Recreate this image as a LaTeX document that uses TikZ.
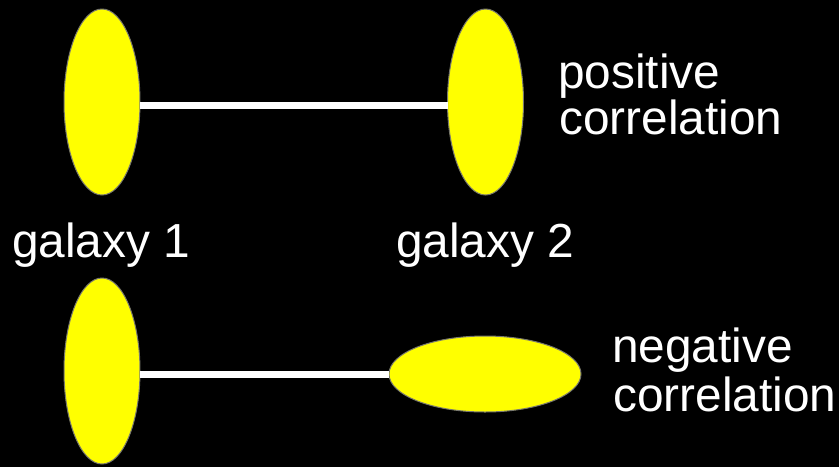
\documentclass[tikz,border=0pt]{standalone}
\usepackage{fontspec}
\setmainfont{Liberation Sans}
\usetikzlibrary{shapes.geometric}
\tikzset{
  galaxy/.style={ellipse, fill={rgb,255:red,255;green,255;blue,0}, draw={rgb,255:red,120;green,120;blue,110},
    line width=1pt, inner sep=0pt, outer sep=0pt},
  tall/.style={galaxy, minimum width=76pt, minimum height=186pt},
  wide/.style={galaxy, minimum width=192pt, minimum height=76pt},
  label/.style={white, inner sep=0pt, anchor=base west, font=\fontsize{47.8}{48}\selectfont},
  link/.style={white, line width=7pt}
}
\begin{document}
\begin{tikzpicture}[x=1pt, y=-1pt]
  \fill[black] (0,0) rectangle (839,467);
  \useasboundingbox (0,0) rectangle (839,467);

  % upper pair: aligned shapes
  \node[tall] (g1) at (102,102) {};
  \node[tall] (g2) at (485.5,102) {};
  \draw[link] ([yshift=-3pt]g1.east) -- ([yshift=-3pt]g2.west);

  % lower pair: one shape turned across
  \node[tall] (g3) at (102,371) {};
  \node[wide] (g4) at (485,374) {};
  \draw[link] ([yshift=-3pt]g3.east) -- ([yshift=0pt]g4.west);

  \node[label] (l1) at (12,257) {galaxy 1};
  \node[label] (l2) at (396,257) {galaxy 2};

  \node[label] (p1) at (558,88) {positive};
  \node[label] (p2) at (559,134) {correlation};

  \node[label] (n1) at (612,362) {negative};
  \node[label] (n2) at (613,411) {correlation};
\end{tikzpicture}
\end{document}
